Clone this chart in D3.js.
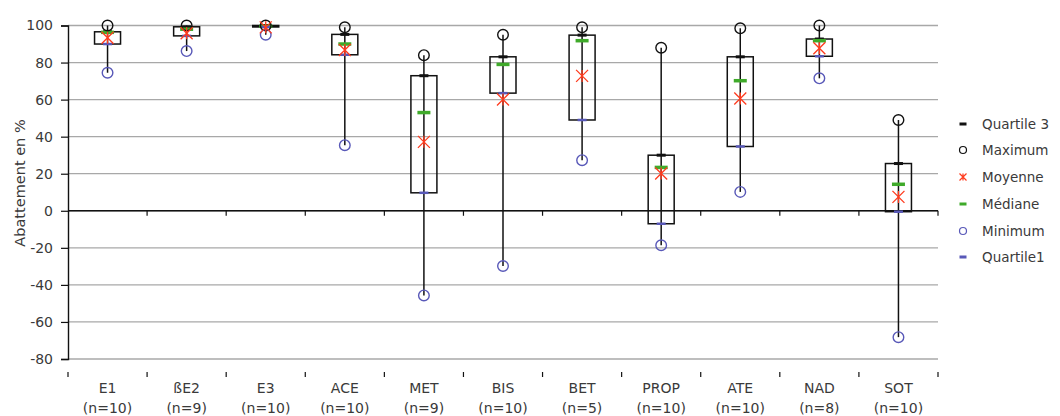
<!DOCTYPE html>
<html><head><meta charset="utf-8">
<script src="https://cdn.jsdelivr.net/npm/d3@7/dist/d3.min.js"></script>
<style>
body{margin:0;background:#fff;}
svg text{font-family:"DejaVu Sans",sans-serif;fill:#3a3a3a;}
</style></head>
<body><svg id="c" width="1060" height="416"></svg>
<script>
const categories = ["E1","ßE2","E3","ACE","MET","BIS","BET","PROP","ATE","NAD","SOT"];
const counts = ["(n=10)","(n=9)","(n=10)","(n=10)","(n=9)","(n=10)","(n=5)","(n=10)","(n=10)","(n=8)","(n=10)"];
const maximum  = [100, 100, 100, 99, 84, 95, 99, 88, 98.5, 100, 49];
const quartile3= [96.6, 99.3, 100, 95.2, 72.9, 83.1, 94.8, 30, 83.1, 92.7, 25.5];
const median   = [96.3, 98, 99.6, 90, 53, 79, 91.8, 23.4, 70.2, 91.8, 14.3];
const mean     = [93.4, 95.8, 99, 86.8, 37.2, 60.1, 72.8, 20.1, 60.6, 87.7, 7.5];
const quartile1= [90, 94.4, 99.2, 84.2, 9.7, 63.5, 49, -7, 34.7, 83.4, -0.5];
const minimum  = [74.5, 86.2, 95, 35.4, -45.7, -29.8, 27.3, -18.6, 10.2, 71.5, -68.2];
const yTicks = [-80,-60,-40,-20,0,20,40,60,80,100];
const legendItems = ["Quartile 3","Maximum","Moyenne","Médiane","Minimum","Quartile1"];

const svg = d3.select("#c");
const x = d3.scaleBand().domain(categories).range([68, 938]).padding(0);
const y = d3.scaleLinear().domain([-80, 100]).range([359, 25.5]);
const cx = c => x(c) + x.bandwidth()/2;
const BLUE="#5858b8", GREEN="#3faa2a", RED="#ff3b1e";

// gridlines
svg.append("g").selectAll("line").data(yTicks).join("line")
  .attr("x1", 68).attr("x2", 938).attr("y1", d=>y(d)).attr("y2", d=>y(d))
  .attr("stroke", "#a8a8a8").attr("stroke-width", 1.3);

// y axis
const ya = svg.append("g").attr("transform","translate(68,0)")
  .call(d3.axisLeft(y).tickValues(yTicks).tickFormat(d=>String(d)).tickSize(7).tickPadding(8));
ya.select(".domain").attr("stroke","#111").attr("stroke-width",1.4);
ya.selectAll(".tick line").attr("stroke","#111").attr("stroke-width",1.2);
ya.selectAll(".tick text").style("font-size","14px").style("font-family","DejaVu Sans").attr("fill","#3a3a3a");

// y title
svg.append("text").attr("transform",`translate(21,183) rotate(-90)`)
  .attr("text-anchor","middle").attr("dominant-baseline","middle")
  .style("font-size","14.5px").text("Abattement en %");

// zero axis
const bounds = categories.map(c=>x(c)).concat([x.range()[1]]);
svg.append("line").attr("x1",68).attr("x2",938).attr("y1",y(0)).attr("y2",y(0))
  .attr("stroke","#111").attr("stroke-width",1.5);
svg.append("g").selectAll("line").data(bounds.slice(1)).join("line")
  .attr("x1",d=>d).attr("x2",d=>d).attr("y1",y(0)).attr("y2",y(0)+5)
  .attr("stroke","#111").attr("stroke-width",1.2);
// bottom ticks
svg.append("g").selectAll("line").data(bounds).join("line")
  .attr("x1",d=>d).attr("x2",d=>d).attr("y1",y(-80)+13).attr("y2",y(-80)+18)
  .attr("stroke","#111").attr("stroke-width",1.2);
// labels
svg.append("g").selectAll("text").data(categories).join("text")
  .attr("x",d=>cx(d)).attr("y",393).attr("text-anchor","middle").style("font-size","14px").text(d=>d);
svg.append("g").selectAll("text").data(counts).join("text")
  .attr("x",(d,i)=>cx(categories[i])).attr("y",413).attr("text-anchor","middle").style("font-size","14px").text(d=>d);

// boxes
const g = svg.append("g");
categories.forEach((c,i)=>{
  const X = cx(c);
  g.append("line").attr("x1",X).attr("x2",X).attr("y1",y(minimum[i])).attr("y2",y(maximum[i]))
    .attr("stroke","#111").attr("stroke-width",1.5);
  g.append("rect").attr("x",X-13).attr("width",26)
    .attr("y",y(quartile3[i])).attr("height",Math.max(1,y(quartile1[i])-y(quartile3[i])))
    .attr("fill","none").attr("stroke","#111").attr("stroke-width",1.5);
});
function dash(sel, data, w, h, color){
  sel.append("g").selectAll("rect").data(data).join("rect")
    .attr("x",(d,i)=>cx(categories[i])-w/2).attr("width",w)
    .attr("y",d=>y(d)-h/2).attr("height",h).attr("fill",color);
}
dash(g, quartile3, 9, 3, "#111");
dash(g, median, 13, 3.5, GREEN);
dash(g, quartile1, 9, 2.5, BLUE);
function circles(sel, data, color){
  sel.append("g").selectAll("circle").data(data).join("circle")
    .attr("cx",(d,i)=>cx(categories[i])).attr("cy",d=>y(d)).attr("r",5.3)
    .attr("fill","none").attr("stroke",color).attr("stroke-width",1.4);
}
circles(g, maximum, "#111");
circles(g, minimum, BLUE);
function star(sel, X, Y, s, color, sw){
  sel.append("path").attr("d",`M${X-s},${Y-s}L${X+s},${Y+s}M${X-s},${Y+s}L${X+s},${Y-s}M${X},${Y-s}L${X},${Y+s}`)
    .attr("stroke",color).attr("stroke-width",sw).attr("fill","none");
}
mean.forEach((m,i)=>star(g, cx(categories[i]), y(m), 6, RED, 1.3));

// legend
const lg = svg.append("g");
const ly = [124,150,177,204,231,257];
legendItems.forEach((t,i)=>{
  const X=963, Y=ly[i];
  if(i===0) lg.append("rect").attr("x",X-3.5).attr("y",Y-1.5).attr("width",7).attr("height",3).attr("fill","#111");
  if(i===1) lg.append("circle").attr("cx",X).attr("cy",Y).attr("r",3.5).attr("fill","none").attr("stroke","#111").attr("stroke-width",1.2);
  if(i===2) star(lg, X, Y, 3.5, RED, 1.2);
  if(i===3) lg.append("rect").attr("x",X-3.5).attr("y",Y-1.5).attr("width",7).attr("height",3).attr("fill",GREEN);
  if(i===4) lg.append("circle").attr("cx",X).attr("cy",Y).attr("r",3.5).attr("fill","none").attr("stroke",BLUE).attr("stroke-width",1.2);
  if(i===5) lg.append("rect").attr("x",X-3.5).attr("y",Y-1.5).attr("width",7).attr("height",3).attr("fill",BLUE);
  lg.append("text").attr("x",982).attr("y",Y).attr("dominant-baseline","central").style("font-size","13.5px").text(t);
});
</script></body></html>
